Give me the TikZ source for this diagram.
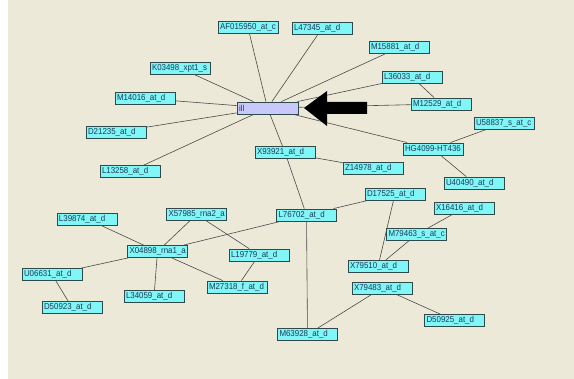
\documentclass[tikz,border=0pt]{standalone}
\usepackage{fontspec}
\setmainfont{Liberation Sans}
\newfontfamily\genefont[FakeStretch=0.92]{Liberation Sans}
\definecolor{panel}{HTML}{ECE9D8}
\definecolor{genefill}{HTML}{80F6F6}
\definecolor{geneedge}{HTML}{2F4A4A}
\definecolor{hubfill}{HTML}{C8C8FA}
\definecolor{genetext}{HTML}{1E3A5A}
\definecolor{linkcol}{HTML}{4A4A4A}
\tikzset{
  gene/.style={draw=geneedge, fill=genefill, line width=0.8pt,
    minimum height=12pt, text width=56pt, inner xsep=2pt, inner ysep=0pt,
    align=left, text=genetext,
    font=\genefont\fontsize{8.6}{9}\selectfont},
  hub/.style={gene, fill=hubfill, text width=57pt},
  link/.style={draw=linkcol, line width=0.6pt}
}
\begin{document}
\begin{tikzpicture}[x=1pt,y=-1pt]
  % canvas
  \fill[white] (0,0) rectangle (574,379);
  \fill[panel] (8,0) rectangle (574,379);
  \useasboundingbox (0,0) rectangle (574,379);

  % gene nodes
  \node[hub]  (ill)   at (267.5,108) {ill};
  \node[gene] (af)    at (248,27.5)  {\mbox{AF015950\_at\_c}};
  \node[gene] (l47)   at (322,28.5)  {\mbox{L47345\_at\_d}};
  \node[gene] (k03)   at (180,68)    {\mbox{K03498\_xpt1\_s}};
  \node[gene] (m14)   at (145,98.5)  {\mbox{M14016\_at\_d}};
  \node[gene] (m15)   at (399,47.5)  {\mbox{M15881\_at\_d}};
  \node[gene] (l36)   at (412,77)    {\mbox{L36033\_at\_d}};
  \node[gene] (m12)   at (441,104)   {\mbox{M12529\_at\_d}};
  \node[gene] (u58)   at (504,123)   {\mbox{U58837\_s\_at\_c}};
  \node[gene] (d21)   at (116,132)   {\mbox{D21235\_at\_d}};
  \node[gene] (l13)   at (130,171.5) {\mbox{L13258\_at\_d}};
  \node[gene] (x93)   at (285,152.5) {\mbox{X93921\_at\_d}};
  \node[gene] (l39)   at (87,219)    {\mbox{L39874\_at\_d}};
  \node[gene] (x57)   at (196.5,214.5) {\mbox{X57985\_rna2\_a}};
  \node[gene] (l76)   at (306.5,215) {\mbox{L76702\_at\_d}};
  \node[gene] (hg)    at (433,149)   {\mbox{HG4099-HT436}};
  \node[gene] (z14)   at (373,168)   {\mbox{Z14978\_at\_d}};
  \node[gene] (u40)   at (474,183)   {\mbox{U40490\_at\_d}};
  \node[gene] (d17)   at (395,194)   {\mbox{D17525\_at\_d}};
  \node[gene] (x16)   at (464,208)   {\mbox{X16416\_at\_d}};
  \node[gene] (m79)   at (416.5,234.5) {\mbox{M79463\_s\_at\_c}};
  \node[gene] (x04)   at (157.5,251.5) {\mbox{X04898\_rna1\_a}};
  \node[gene] (l19)   at (259,255)   {\mbox{L19779\_at\_d}};
  \node[gene] (u06)   at (52,274.5)  {\mbox{U06631\_at\_d}};
  \node[gene] (l34)   at (154,296.5) {\mbox{L34059\_at\_d}};
  \node[gene] (m27)   at (237,287)   {\mbox{M27318\_f\_at\_d}};
  \node[gene] (d509)  at (72,307.5)  {\mbox{D50923\_at\_d}};
  \node[gene] (x795)  at (378,266.5) {\mbox{X79510\_at\_d}};
  \node[gene] (x794)  at (382,288)   {\mbox{X79483\_at\_d}};
  \node[gene] (d592)  at (454.5,320.5) {\mbox{D50925\_at\_d}};
  \node[gene] (m63)   at (307.5,334.5) {\mbox{M63928\_at\_d}};

  % links
  \foreach \a/\b in {ill/af, ill/l47, ill/m15, ill/l36, ill/m12, ill/k03,
      ill/m14, ill/d21, ill/l13, ill/x93, ill/hg, l36/m12, hg/u58, hg/u40,
      x93/z14, x93/l76, l76/d17, l76/m63, l76/x04, x57/x04, x57/l19,
      l39/x04, x04/u06, x04/l34, x04/m27, l19/m27, u06/d509, d17/x795,
      x16/m79, m79/x795, x794/m63, x794/d592}
    \draw[link] (\a) -- (\b);

  % pointer arrow towards the hub
  \fill[black] (304,108) -- (327,91) -- (327,102) -- (367,102)
    -- (367,114) -- (327,114) -- (327,126) -- cycle;
\end{tikzpicture}
\end{document}
